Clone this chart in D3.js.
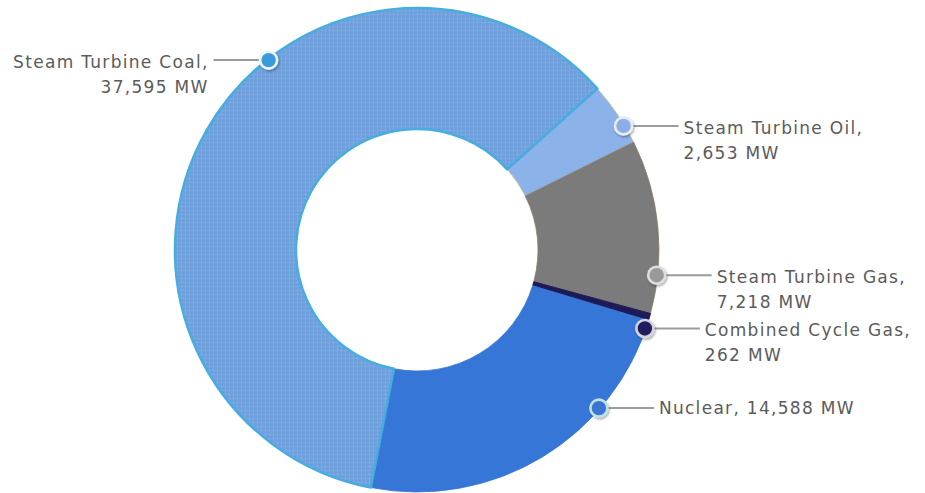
<!DOCTYPE html>
<html>
<head>
<meta charset="utf-8">
<script src="https://cdn.jsdelivr.net/npm/d3@7"></script>
<style>
  html, body { margin: 0; padding: 0; background: #ffffff; }
  svg { display: block; }
  .lbl { font-family: "DejaVu Sans", sans-serif; font-size: 17px; letter-spacing: 1.3px; fill: #5b5b5b; }
</style>
</head>
<body>
<svg id="chart" width="925" height="493"></svg>
<script>
// Installed generating capacity by unit type (MW)
const categories = ["Steam Turbine Coal", "Steam Turbine Oil", "Steam Turbine Gas", "Combined Cycle Gas", "Nuclear"];
const capacityMW = [37595, 2653, 7218, 262, 14588];

// Slice styling
const sliceColors   = ["#6c9fdc", "#8cb2ea", "#7b7b7b", "#1d1b57", "#3676d6"];
const sliceStrokes  = ["#47ace0", "#c8b98c", "#8a7f6a", "#1d1b57", "#3676d6"];
const markerColors  = ["#3b9ad9", "#8aaee6", "#9a9a9a", "#221d5f", "#3a74d4"];
const markerRings   = ["#e9f6fb", "#e6edf6", "#dedede", "#d5d5dd", "#bfe2ea"];

// Label anchor layout: angle (degrees, clockwise from 12 o'clock) and side of the leader line
const anchorDeg  = [322, 59, 96, 109, 131];
const anchorSide = ["left", "right", "right", "right", "right"];

const width = 925, height = 493;
const cx = 417, cy = 250;
const outerR = 242, innerR = 121;
const startDeg = -169;

const svg = d3.select("#chart");

const defs = svg.append("defs");
// fine woven texture on the coal slice
const pat = defs.append("pattern")
  .attr("id", "weave").attr("width", 4).attr("height", 4)
  .attr("patternUnits", "userSpaceOnUse");
pat.append("rect").attr("width", 4).attr("height", 4).attr("fill", sliceColors[0]);
pat.append("path").attr("d", "M0,0.5H4M0.5,0V4")
  .attr("stroke", "#8cb6e6").attr("stroke-width", 0.8).attr("opacity", 0.55);

const shadow = defs.append("filter").attr("id", "mshadow")
  .attr("x", "-50%").attr("y", "-50%").attr("width", "200%").attr("height", "200%");
shadow.append("feDropShadow").attr("dx", 1).attr("dy", 1.5)
  .attr("stdDeviation", 1.2).attr("flood-color", "#000").attr("flood-opacity", 0.35);

const rad = d => d * Math.PI / 180;

const pie = d3.pie()
  .sort(null)
  .value(d => d.value)
  .startAngle(rad(startDeg))
  .endAngle(rad(startDeg + 360));

const data = categories.map((c, i) => ({ name: c, value: capacityMW[i], i }));
const arcs = pie(data);

const arc = d3.arc().innerRadius(innerR).outerRadius(outerR);

const g = svg.append("g").attr("transform", `translate(${cx},${cy})`);

// draw coal last among the wide slices so its cyan rim sits on top
const order = [1, 2, 4, 3, 0];
g.selectAll("path.slice")
  .data(order.map(k => arcs[k]))
  .join("path")
  .attr("class", "slice")
  .attr("d", arc)
  .attr("fill", d => d.data.i === 0 ? "url(#weave)" : sliceColors[d.data.i])
  .attr("stroke", d => sliceStrokes[d.data.i])
  .attr("stroke-width", d => d.data.i === 0 ? 2.5 : (d.data.i === 3 ? 1 : 0.8))
  .attr("stroke-linejoin", "round");

// label anchors sit near the outer rim of each slice
const anchorArc = d3.arc().innerRadius(241).outerRadius(241);
const fmt = d3.format(",");
const lineLen = 55, gap = 5;

const labels = g.selectAll("g.label")
  .data(arcs)
  .join("g")
  .attr("class", "label")
  .attr("transform", d => {
    const a = rad(anchorDeg[d.data.i]);
    const [x, y] = anchorArc.centroid({ startAngle: a, endAngle: a });
    return `translate(${x},${y})`;
  });

labels.append("line")
  .attr("x1", 0).attr("y1", 0)
  .attr("x2", d => anchorSide[d.data.i] === "left" ? -lineLen : lineLen)
  .attr("y2", 0)
  .attr("stroke", "#9c9c9c")
  .attr("stroke-width", 2);

labels.append("circle")
  .attr("r", 8.5)
  .attr("fill", d => markerColors[d.data.i])
  .attr("stroke", d => markerRings[d.data.i])
  .attr("stroke-width", 2.6)
  .attr("filter", "url(#mshadow)");

labels.each(function(d) {
  const left = anchorSide[d.data.i] === "left";
  const x = left ? -(lineLen + gap) : (lineLen + gap);
  const t = d3.select(this).append("text")
    .attr("class", "lbl")
    .attr("text-anchor", left ? "end" : "start");
  if (d.data.name === "Nuclear") {
    t.append("tspan").attr("x", x).attr("y", 6)
      .text(`${d.data.name}, ${fmt(d.data.value)} MW`);
  } else {
    t.append("tspan").attr("x", x).attr("y", 8).text(`${d.data.name},`);
    t.append("tspan").attr("x", x).attr("y", 33).text(`${fmt(d.data.value)} MW`);
  }
});
</script>
</body>
</html>
